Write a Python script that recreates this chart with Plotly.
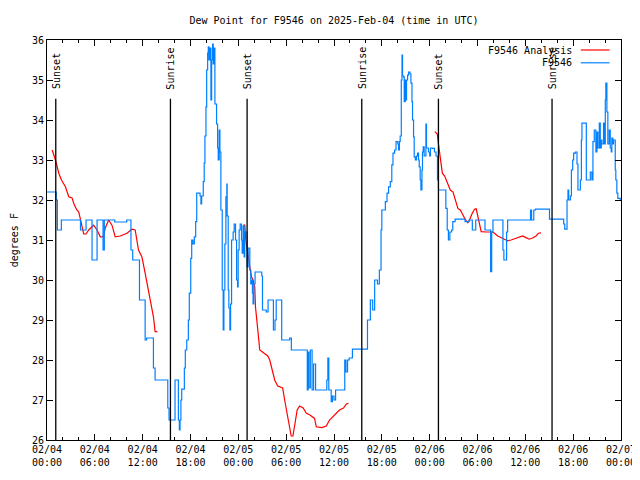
import pandas as pd
import plotly.graph_objects as go

BASE = pd.Timestamp("2025-02-04 00:00")

# Observed dew point (F9546): hours since 2025-02-04 00:00 UTC, degrees F
obs_hours = [0.0, 1.15, 1.3, 1.8, 4.2, 4.9, 5.65, 6.28, 7.03, 7.19, 8.5, 10.0, 10.53, 10.75,
             11.6, 12.31, 12.5, 13.35, 13.56, 15.15, 15.31, 16.06, 16.48, 16.6, 16.69, 16.8,
             16.9, 17.23, 17.35, 17.53, 17.73, 17.85, 18.03, 18.15, 18.3, 18.48, 18.65, 18.78,
             19.2, 19.31, 19.4, 19.6, 19.72, 19.81, 19.94, 20.03, 20.15, 20.23, 20.31, 20.44,
             20.56, 20.65, 20.77, 20.85, 20.94, 21.06, 21.27, 21.4, 21.48, 21.6, 21.69, 21.81,
             21.98, 22.1, 22.19, 22.31, 22.44, 22.56, 22.6, 22.73, 22.81, 22.94, 23.03, 23.15,
             23.35, 23.48, 23.65, 23.78, 23.9, 23.98, 24.1, 24.23, 24.4, 24.48, 24.6, 24.73,
             24.81, 25.0, 25.1, 25.23, 25.44, 25.56, 25.65, 25.77, 25.85, 25.94, 26.1, 26.94,
             27.03, 27.5, 27.73, 28.35, 28.4, 28.6, 28.75, 29.4, 29.44, 30.44, 30.65, 32.53,
             32.65, 32.75, 32.85, 33.03, 33.25, 33.44, 33.69, 35.03, 35.1, 35.23, 35.35, 35.65,
             35.8, 36.0, 36.2, 37.1, 37.35, 37.5, 37.7, 37.9, 38.31, 40.2, 40.56, 40.85, 41.1,
             41.45, 41.69, 41.9, 42.0, 42.44, 42.65, 42.85, 43.06, 43.25, 43.4, 43.6, 43.78,
             44.0, 44.1, 44.2, 44.3, 44.44, 44.53, 44.6, 44.73, 44.81, 44.94, 45.03, 45.1,
             45.23, 45.35, 45.53, 45.65, 45.78, 45.85, 45.98, 46.06, 46.2, 46.35, 46.48, 46.6,
             46.69, 46.81, 46.9, 47.03, 47.1, 47.19, 47.31, 47.53, 47.6, 47.85, 48.0, 48.1,
             48.35, 48.6, 48.8, 48.98, 49.1, 49.85, 50.03, 50.2, 50.35, 50.53, 50.75, 50.9,
             51.19, 52.44, 52.94, 53.35, 53.78, 54.94, 55.44, 55.65, 55.78, 55.94, 57.19, 57.31,
             57.65, 57.78, 60.65, 60.78, 61.06, 61.28, 63.03, 64.81, 64.94, 65.23, 65.35, 65.44,
             65.65, 65.78, 65.94, 66.06, 66.28, 66.48, 66.6, 66.78, 66.9, 67.03, 67.1, 67.6,
             67.65, 67.94, 68.15, 68.35, 68.48, 68.65, 68.85, 68.98, 69.1, 69.28, 69.4, 69.53,
             69.6, 69.81, 69.94, 70.03, 70.1, 70.23, 70.35, 70.53, 70.65, 70.78, 70.85, 70.98,
             71.06, 71.28, 71.35, 71.48, 71.6, 71.9]
obs_values = [32.2, 32.0, 31.25, 31.5, 31.25, 31.5, 30.5, 31.5, 30.75, 31.5, 31.45, 31.5, 30.75, 30.5,
              29.5, 28.5, 28.55, 27.8, 27.5, 26.8, 26.5, 27.5, 26.5, 26.25, 26.5, 27.0,
              27.27, 27.8, 28.25, 28.5, 29.0, 29.67, 30.54, 31.0, 30.9, 31.08, 31.46, 32.17,
              32.1, 31.9, 32.1, 32.46, 32.92, 33.6, 34.33, 35.25, 35.67, 35.83, 35.5, 35.8,
              34.5, 35.5, 35.9, 35.4, 35.8, 34.4, 33.9, 33.3, 33.0, 33.75, 33.2, 31.75,
              29.75, 28.75, 29.75, 30.9, 32.08, 32.4, 31.6, 29.75, 29.3, 28.75, 29.4, 31.0,
              31.2, 31.4, 31.0, 30.0, 29.83, 30.75, 31.25, 31.4, 31.0, 30.67, 31.35, 30.58,
              31.2, 31.2, 30.33, 30.8, 30.25, 29.9, 30.0, 29.67, 29.4, 29.9, 30.2, 30.1,
              29.25, 29.2, 29.5, 29.5, 28.75, 29.0, 29.5, 29.5, 28.5, 28.55, 28.25, 28.25,
              27.25, 28.2, 27.3, 28.25, 27.25, 27.9, 27.25, 27.25, 27.5, 28.05, 27.25, 26.96,
              27.1, 27.0, 27.25, 27.25, 28.0, 27.7, 28.0, 28.05, 28.27, 29.0, 29.5, 29.25, 30.0,
              29.9, 30.25, 31.25, 31.75, 31.96, 32.17, 32.33, 32.46, 32.88, 33.17, 33.25, 33.46,
              33.4, 33.25, 33.46, 33.6, 35.0, 35.62, 35.1, 35.08, 34.46, 35.0, 34.5, 35.0,
              35.12, 35.2, 35.15, 34.92, 34.46, 34.0, 33.58, 33.08, 33.0, 33.1, 33.17, 33.0,
              32.83, 32.5, 32.25, 32.75, 33.2, 33.33, 33.1, 33.9, 33.3, 33.2, 33.1, 33.3,
              33.29, 33.2, 33.1, 32.5, 32.25, 32.25, 31.79, 31.25, 31.0, 31.2, 31.25, 31.46,
              31.52, 31.46, 31.5, 31.25, 31.5, 31.25, 31.25, 30.21, 31.2, 31.5, 30.75, 30.5,
              31.2, 31.5, 31.75, 31.5, 31.75, 31.77, 31.52, 31.4, 31.27, 32.0, 32.25, 32.0,
              32.1, 32.75, 33.0, 33.17, 33.2, 32.9, 32.25, 32.25, 32.5, 33.5, 33.92, 33.92,
              32.5, 32.5, 32.7, 32.5, 33.46, 33.75, 33.2, 33.7, 33.3, 33.92, 33.3, 33.5,
              33.4, 33.92, 33.4, 34.5, 34.92, 34.2, 33.4, 33.75, 33.3, 33.2, 33.55, 33.4,
              33.5, 32.75, 32.5, 32.17, 32.04, 32.0]

# Analysis dew point (F9546 Analysis), three separate runs
ana1_hours = [0.65, 1.06, 1.48, 1.81, 2.31, 2.73, 3.15, 3.35, 3.69, 3.98, 4.19, 4.4, 4.6, 4.9,
              5.23, 5.85, 6.27, 6.69, 7.06, 7.31, 7.73, 8.15, 8.56, 9.19, 10.03, 10.65, 11.06,
              11.48, 11.9, 12.31, 12.73, 13.06, 13.35, 13.56, 13.85]
ana1_values = [33.25, 33.0, 32.67, 32.5, 32.33, 32.08, 32.05, 31.92, 31.77, 31.7, 31.52, 31.3, 31.15, 31.15,
               31.25, 31.37, 31.25, 31.08, 31.08, 31.3, 31.5, 31.37, 31.08, 31.1, 31.17, 31.27, 31.25,
               30.75, 30.58, 30.17, 29.75, 29.42, 29.08, 28.71, 28.71]
ana2_hours = [24.6, 24.81, 24.94, 25.15, 25.44, 25.65, 25.85, 26.06, 26.15, 26.4, 26.48, 26.69,
              27.69, 27.94, 28.25, 28.56, 28.94, 29.56, 29.81, 30.19, 30.44, 30.63, 30.85, 31.06,
              31.38, 31.69, 32.13, 32.53, 32.94, 33.56, 33.78, 34.44, 35.03, 35.44, 36.13, 36.69,
              37.19, 37.56, 37.81]
ana2_values = [31.37, 31.37, 31.0, 30.67, 30.33, 30.08, 30.0, 29.83, 29.33, 28.83, 28.67, 28.25,
               28.1, 28.0, 27.75, 27.5, 27.35, 27.3, 27.0, 26.6, 26.33, 26.1, 26.1, 26.4,
               26.75, 26.85, 26.8, 26.67, 26.63, 26.54, 26.33, 26.31, 26.35, 26.5, 26.63, 26.75,
               26.8, 26.9, 26.92]
ana3_hours = [48.63, 48.96, 49.04, 49.25, 49.38, 49.59, 49.88, 50.29, 50.59, 50.93, 51.25, 51.54,
              51.84, 52.16, 52.5, 52.79, 53.0, 53.34, 53.63, 53.84, 54.04, 54.25, 54.46, 55.09,
              55.91, 56.13, 56.54, 57.38, 57.79, 58.21, 58.63, 59.04, 59.66, 60.09, 60.5, 60.91,
              61.34, 61.66, 61.96]
ana3_values = [33.71, 33.65, 33.5, 33.2, 32.92, 32.67, 32.6, 32.42, 32.25, 32.2, 32.0, 31.79,
               31.75, 31.62, 31.5, 31.43, 31.5, 31.67, 31.77, 31.78, 31.6, 31.42, 31.21, 31.2,
               31.2, 31.17, 31.1, 31.02, 30.98, 31.0, 31.03, 31.06, 31.1, 31.06, 31.02, 31.05,
               31.1, 31.17, 31.18]

sun_times = ["2025-02-04 01:06", "2025-02-04 15:29", "2025-02-05 01:06",
             "2025-02-05 15:29", "2025-02-06 01:06", "2025-02-06 15:21"]
sun_labels = ["Sunset", "Sunrise", "Sunset", "Sunrise", "Sunset", "Sunrise"]

TITLE = "Dew Point for F9546 on 2025-Feb-04 (time in UTC)"
Y_TITLE = "degrees F"
NAME_ANA = "F9546 Analysis"
NAME_OBS = "F9546"

RED = "#ff0000"
BLUE = "#0080ff"
FONT = "DejaVu Sans Mono"
FS = 10


def to_time(hours):
    return BASE + pd.to_timedelta(pd.Series(hours), unit="h")


fig = go.Figure()
for h, v in [(ana1_hours, ana1_values), (ana2_hours, ana2_values), (ana3_hours, ana3_values)]:
    fig.add_trace(go.Scatter(x=to_time(h), y=v, mode="lines", name=NAME_ANA,
                             line=dict(color=RED, width=1.2), showlegend=False))
fig.add_trace(go.Scatter(x=to_time(obs_hours), y=obs_values, mode="lines", name=NAME_OBS,
                         line=dict(color=BLUE, width=1.2, shape="hv"), showlegend=False))

for t, lab in zip(sun_times, sun_labels):
    fig.add_shape(type="line", x0=t, x1=t, y0=26, y1=34.53, xref="x", yref="y",
                  line=dict(color="black", width=1.3))
    fig.add_annotation(x=t, y=34.72, xref="x", yref="y", text=lab, textangle=-90,
                       showarrow=False, xanchor="center", yanchor="bottom",
                       font=dict(family=FONT, size=FS, color="black"))

# legend (gnuplot style: text right-aligned, sample line on the right)
for name, color, yp in [(NAME_ANA, RED, 0.975), (NAME_OBS, BLUE, 0.943)]:
    fig.add_annotation(x=0.918, y=yp, xref="paper", yref="paper", text=name, showarrow=False,
                       xanchor="right", yanchor="middle",
                       font=dict(family=FONT, size=FS, color="black"))
    fig.add_shape(type="line", x0=0.93, x1=0.98, y0=yp, y1=yp, xref="paper", yref="paper",
                  line=dict(color=color, width=1.2))

fig.add_annotation(x=-0.057, y=0.5, xref="paper", yref="paper", text=Y_TITLE, textangle=-90,
                   showarrow=False, xanchor="center", yanchor="middle",
                   font=dict(family=FONT, size=FS, color="black"))

# the page body has an 8px margin, so the figure is sized 632x472 to fill the window
fig.update_layout(
    template="none",
    width=632, height=472,
    margin=dict(l=38.5, r=18.5, t=32, b=40, pad=0),
    paper_bgcolor="white", plot_bgcolor="white",
    font=dict(family=FONT, size=FS, color="black"),
    title=dict(text=TITLE, x=0.5, xref="paper", y=1 - 12 / 472, yref="container",
               yanchor="middle", font=dict(family=FONT, size=FS, color="black")),
    showlegend=False,
)
fig.update_xaxes(
    range=[BASE, BASE + pd.Timedelta(hours=72)],
    dtick=6 * 3600 * 1000, tick0=BASE, tickformat="%m/%d<br>%H:%M",
    ticks="inside", ticklen=6, tickcolor="black", tickwidth=1,
    showline=True, linecolor="black", linewidth=1, mirror="allticks",
    showgrid=False, zeroline=False, automargin=False,
    minor=dict(dtick=2 * 3600 * 1000, tick0=BASE, ticks="inside", ticklen=3,
               tickcolor="black", showgrid=False),
    tickfont=dict(family=FONT, size=FS, color="black"),
)
fig.update_yaxes(
    range=[26, 36], dtick=1, ticks="inside", ticklen=6, tickcolor="black",
    showline=True, linecolor="black", linewidth=1, mirror="allticks",
    showgrid=False, zeroline=False, automargin=False,
    tickfont=dict(family=FONT, size=FS, color="black"),
)

fig.write_html("out.html")
